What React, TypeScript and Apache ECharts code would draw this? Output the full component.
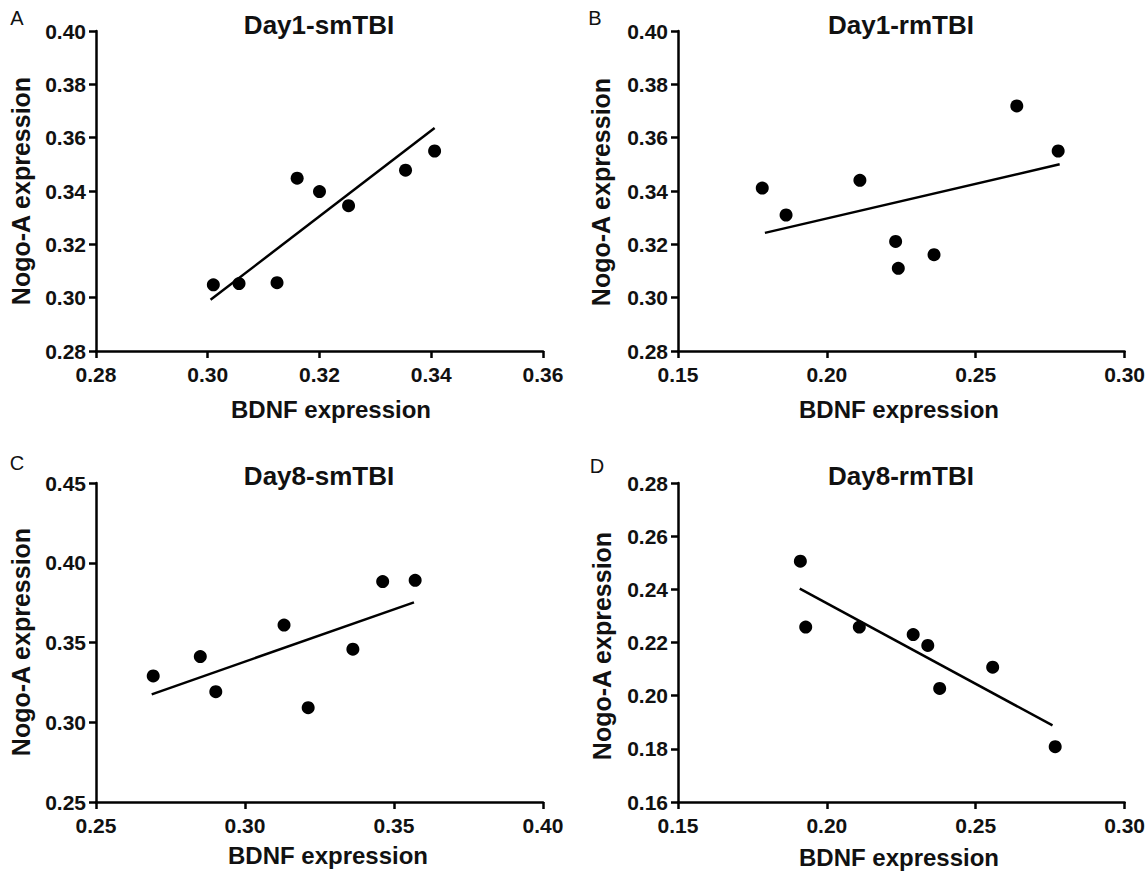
import React, { useEffect, useRef } from "react";
import * as echarts from "echarts";

// Panel titles and letters
const panelTitles = ["Day1-smTBI", "Day1-rmTBI", "Day8-smTBI", "Day8-rmTBI"];
const panelLetters = ["A", "B", "C", "D"];
const xAxisTitle = "BDNF expression";
const yAxisTitle = "Nogo-A expression";

// Axis ranges [min, max, interval]
const xRanges = [
  [0.28, 0.36, 0.02],
  [0.15, 0.3, 0.05],
  [0.25, 0.4, 0.05],
  [0.15, 0.3, 0.05],
];
const yRanges = [
  [0.28, 0.4, 0.02],
  [0.28, 0.4, 0.02],
  [0.25, 0.45, 0.05],
  [0.16, 0.28, 0.02],
];

// Scatter points [BDNF, Nogo-A]
const pointsA = [
  [0.301, 0.3048],
  [0.3056, 0.3053],
  [0.3124, 0.3056],
  [0.316, 0.3448],
  [0.32, 0.3398],
  [0.3252, 0.3345],
  [0.3354, 0.3478],
  [0.3406, 0.355],
];
const pointsB = [
  [0.1783, 0.3411],
  [0.1863, 0.331],
  [0.2111, 0.344],
  [0.2231, 0.3211],
  [0.224, 0.311],
  [0.236, 0.3161],
  [0.2638, 0.3719],
  [0.2777, 0.355],
];
const pointsC = [
  [0.2692, 0.329],
  [0.285, 0.3412],
  [0.2902, 0.3192],
  [0.3131, 0.3609],
  [0.3212, 0.3091],
  [0.3362, 0.3458],
  [0.3462, 0.3882],
  [0.3571, 0.389],
];
const pointsD = [
  [0.1911, 0.2506],
  [0.1929, 0.2258],
  [0.2109, 0.2258],
  [0.229, 0.223],
  [0.2339, 0.2189],
  [0.2379, 0.2027],
  [0.2557, 0.2107],
  [0.2767, 0.1808],
];

// Regression line end points
const fitA = [
  [0.3005, 0.2992],
  [0.3406, 0.3636],
];
const fitB = [
  [0.1792, 0.3243],
  [0.2782, 0.35],
];
const fitC = [
  [0.2687, 0.3175],
  [0.3567, 0.3752],
];
const fitD = [
  [0.1909, 0.2403],
  [0.2758, 0.1888],
];

const allPoints = [pointsA, pointsB, pointsC, pointsD];
const allFits = [fitA, fitB, fitC, fitD];

export default function App() {
  const ref = useRef<HTMLDivElement>(null);

  useEffect(() => {
    if (!ref.current) return;
    const chart = echarts.init(ref.current, null, { renderer: "svg" });
    const FONT = '"Liberation Sans", Arial, sans-serif';

    const grids = [
      { left: 96, top: 31, width: 447, height: 320 },
      { left: 678, top: 31, width: 447, height: 320 },
      { left: 96, top: 483, width: 447, height: 319 },
      { left: 678, top: 483, width: 447, height: 319 },
    ];

    const axisCommon = {
      axisLine: { show: true, onZero: false, lineStyle: { color: "#000", width: 2.5 } },
      axisTick: { show: true, inside: false, length: 7, lineStyle: { color: "#000", width: 2.5 } },
      splitLine: { show: false },
    };

    const xAxes = xRanges.map((r, i) => ({
      type: "value",
      gridIndex: i,
      min: r[0],
      max: r[1],
      interval: r[2],
      ...axisCommon,
      axisLabel: {
        color: "#111",
        fontFamily: FONT,
        fontWeight: "bold",
        fontSize: 21,
        margin: 13,
        formatter: (v: number) => v.toFixed(2),
      },
    }));
    const yAxes = yRanges.map((r, i) => ({
      type: "value",
      gridIndex: i,
      min: r[0],
      max: r[1],
      interval: r[2],
      ...axisCommon,
      axisLabel: {
        color: "#111",
        fontFamily: FONT,
        fontWeight: "bold",
        fontSize: 21,
        margin: 10,
        formatter: (v: number) => v.toFixed(2),
      },
    }));

    const series: any[] = [];
    allPoints.forEach((pts, i) => {
      series.push({
        type: "scatter",
        xAxisIndex: i,
        yAxisIndex: i,
        data: pts,
        symbol: "circle",
        symbolSize: 13,
        itemStyle: { color: "#000", opacity: 1 },
        z: 3,
      });
      series.push({
        type: "line",
        xAxisIndex: i,
        yAxisIndex: i,
        data: allFits[i],
        showSymbol: false,
        symbol: "none",
        lineStyle: { color: "#000", width: 2.5 },
        z: 2,
      });
    });

    const titlePos = [
      [319, 25],
      [901, 25],
      [319, 476],
      [901, 476],
    ];
    const letterPos = [
      [17, 18],
      [595, 18],
      [17, 463],
      [597, 466],
    ];
    const xNamePos = [
      [331, 409],
      [899, 409],
      [328, 855],
      [899, 857],
    ];
    const yNamePos = [
      [21, 191],
      [601, 192],
      [21, 642],
      [602, 646],
    ];

    const graphic: any[] = [];
    for (let i = 0; i < 4; i++) {
      graphic.push({
        type: "text",
        x: titlePos[i][0],
        y: titlePos[i][1],
        style: {
          text: panelTitles[i],
          fill: "#111",
          font: `bold 26px ${FONT}`,
          align: "center",
          verticalAlign: "middle",
        },
      });
      graphic.push({
        type: "text",
        x: letterPos[i][0],
        y: letterPos[i][1],
        style: {
          text: panelLetters[i],
          fill: "#111",
          font: `20px ${FONT}`,
          align: "center",
          verticalAlign: "middle",
        },
      });
      graphic.push({
        type: "text",
        x: xNamePos[i][0],
        y: xNamePos[i][1],
        style: {
          text: xAxisTitle,
          fill: "#111",
          font: `bold 24px ${FONT}`,
          align: "center",
          verticalAlign: "middle",
        },
      });
      graphic.push({
        type: "text",
        x: yNamePos[i][0],
        y: yNamePos[i][1],
        rotation: Math.PI / 2,
        style: {
          text: yAxisTitle,
          fill: "#111",
          font: `bold 25px ${FONT}`,
          align: "center",
          verticalAlign: "middle",
        },
      });
    }

    chart.setOption({
      animation: false,
      backgroundColor: "#fff",
      grid: grids,
      xAxis: xAxes,
      yAxis: yAxes,
      series,
      graphic,
    });

    return () => chart.dispose();
  }, []);

  return (
    <div
      ref={ref}
      style={{ position: "absolute", left: 0, top: 0, width: 1148, height: 875, background: "#fff" }}
    />
  );
}
